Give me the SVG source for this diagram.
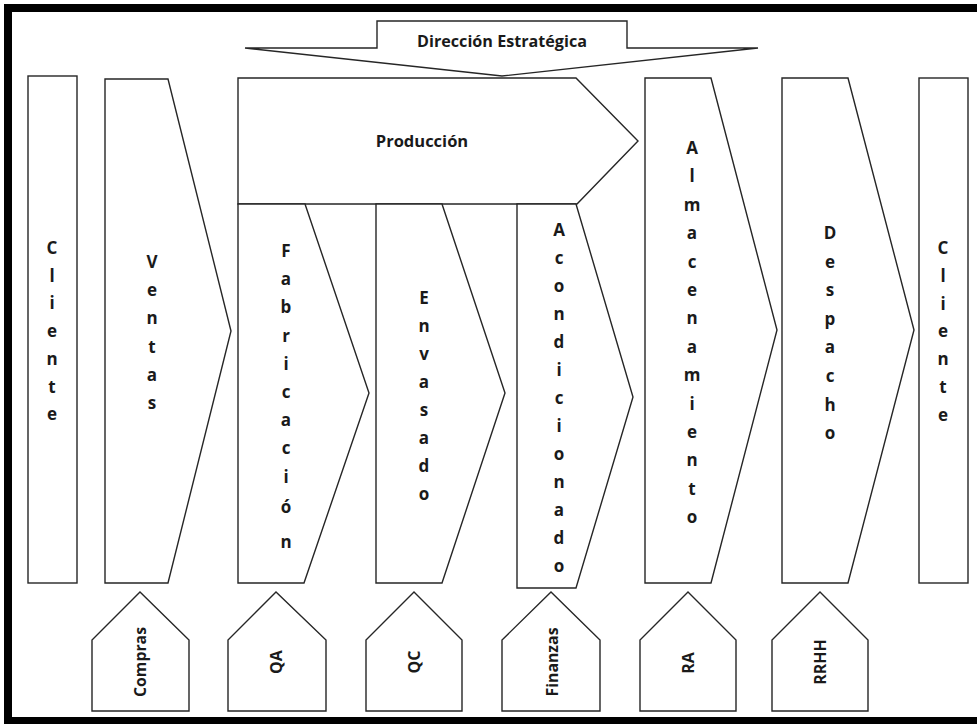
<svg xmlns="http://www.w3.org/2000/svg" width="977" height="724" viewBox="0 0 977 724">
  <style>
    .shape { fill: #ffffff; stroke: #262626; stroke-width: 1.4; stroke-linejoin: miter; }
    .lbl { font-family: "Open Sans", "Noto Sans", "Liberation Sans", sans-serif; font-weight: bold; fill: #1a1a1a; }
    .big { font-size: 16.5px; text-anchor: middle; }
    .col { font-size: 17px; text-anchor: middle; }
    .side { font-size: 16px; text-anchor: middle; dominant-baseline: central; }
  </style>

  <rect x="0" y="0" width="977" height="724" fill="#ffffff"/>
  <!-- frame (open on the right edge) -->
  <rect x="8" y="8" width="990" height="713" fill="none" stroke="#000000" stroke-width="8"/>

  <!-- top: strategic direction arrow -->
  <g id="direccion">
    <polygon class="shape" points="377,21 627,21 627,48 758,48 502,76 245,48 377,48"/>
    <text class="lbl big" x="502" y="47" textLength="170" lengthAdjust="spacingAndGlyphs">Dirección Estratégica</text>
  </g>

  <g id="cliente-entrada">
    <rect class="shape" x="28" y="76" width="49" height="507"/>
    <text class="lbl col">
      <tspan x="52" y="254">C</tspan><tspan x="52" dy="27.7">l</tspan><tspan x="52" dy="27.7">i</tspan><tspan x="52" dy="27.7">e</tspan><tspan x="52" dy="27.7">n</tspan><tspan x="52" dy="27.7">t</tspan><tspan x="52" dy="27.7">e</tspan>
    </text>
  </g>

  <g id="ventas">
    <polygon class="shape" points="105,79 168,79 231,331 168,583 105,583"/>
    <text class="lbl col">
      <tspan x="152" y="268">V</tspan><tspan x="152" dy="28.2">e</tspan><tspan x="152" dy="28.2">n</tspan><tspan x="152" dy="28.2">t</tspan><tspan x="152" dy="28.2">a</tspan><tspan x="152" dy="28.2">s</tspan>
    </text>
  </g>

  <g id="produccion">
    <polygon class="shape" points="238,78 576,78 638,141 577,204 238,204"/>
    <text class="lbl big" x="422" y="147">Producción</text>
  </g>

  <g id="fabricacion">
    <polygon class="shape" points="238,204 305,204 369,393 304,583 238,583"/>
    <text class="lbl col">
      <tspan x="286" y="257">F</tspan><tspan x="286" dy="28.2">a</tspan><tspan x="286" dy="28.2">b</tspan><tspan x="286" dy="28.2">r</tspan><tspan x="286" dy="28.2">i</tspan><tspan x="286" dy="28.2">c</tspan><tspan x="286" dy="28.2">a</tspan><tspan x="286" dy="28.2">c</tspan><tspan x="286" dy="28.2">i</tspan><tspan x="286" dy="30">ó</tspan><tspan x="286" dy="35">n</tspan>
    </text>
  </g>

  <g id="envasado">
    <polygon class="shape" points="376,204 442,204 505,393 442,583 376,583"/>
    <text class="lbl col">
      <tspan x="424" y="304">E</tspan><tspan x="424" dy="28">n</tspan><tspan x="424" dy="28">v</tspan><tspan x="424" dy="28">a</tspan><tspan x="424" dy="28">s</tspan><tspan x="424" dy="28">a</tspan><tspan x="424" dy="28">d</tspan><tspan x="424" dy="28">o</tspan>
    </text>
  </g>

  <g id="acondicionado">
    <polygon class="shape" points="517,204 576,204 633,397 576,588 517,588"/>
    <text class="lbl col">
      <tspan x="559" y="236">A</tspan><tspan x="559" dy="28">c</tspan><tspan x="559" dy="28">o</tspan><tspan x="559" dy="28">n</tspan><tspan x="559" dy="28">d</tspan><tspan x="559" dy="28">i</tspan><tspan x="559" dy="28">c</tspan><tspan x="559" dy="28">i</tspan><tspan x="559" dy="28">o</tspan><tspan x="559" dy="28">n</tspan><tspan x="559" dy="28">a</tspan><tspan x="559" dy="28">d</tspan><tspan x="559" dy="28">o</tspan>
    </text>
  </g>

  <g id="almacenamiento">
    <polygon class="shape" points="645,78 711,78 777,330 711,583 645,583"/>
    <text class="lbl col">
      <tspan x="692" y="154">A</tspan><tspan x="692" dy="28.4">l</tspan><tspan x="692" dy="28.4">m</tspan><tspan x="692" dy="28.4">a</tspan><tspan x="692" dy="28.4">c</tspan><tspan x="692" dy="28.4">e</tspan><tspan x="692" dy="28.4">n</tspan><tspan x="692" dy="28.4">a</tspan><tspan x="692" dy="28.4">m</tspan><tspan x="692" dy="28.4">i</tspan><tspan x="692" dy="28.4">e</tspan><tspan x="692" dy="28.4">n</tspan><tspan x="692" dy="28.4">t</tspan><tspan x="692" dy="28.4">o</tspan>
    </text>
  </g>

  <g id="despacho">
    <polygon class="shape" points="782,78 848,78 914,330 848,583 782,583"/>
    <text class="lbl col">
      <tspan x="830" y="239">D</tspan><tspan x="830" dy="28.6">e</tspan><tspan x="830" dy="28.6">s</tspan><tspan x="830" dy="28.6">p</tspan><tspan x="830" dy="28.6">a</tspan><tspan x="830" dy="28.6">c</tspan><tspan x="830" dy="28.6">h</tspan><tspan x="830" dy="28.6">o</tspan>
    </text>
  </g>

  <g id="cliente-salida">
    <rect class="shape" x="919" y="78" width="49" height="505"/>
    <text class="lbl col">
      <tspan x="943" y="254">C</tspan><tspan x="943" dy="27.8">l</tspan><tspan x="943" dy="27.8">i</tspan><tspan x="943" dy="27.8">e</tspan><tspan x="943" dy="27.8">n</tspan><tspan x="943" dy="27.8">t</tspan><tspan x="943" dy="27.8">e</tspan>
    </text>
  </g>

  <!-- support areas -->
  <g id="compras">
    <polygon class="shape" points="92,711 92,640 140,592 189,640 189,711"/>
    <text class="lbl side" transform="rotate(-90 140 662)" x="140" y="662" textLength="70" lengthAdjust="spacingAndGlyphs">Compras</text>
  </g>
  <g id="qa">
    <polygon class="shape" points="228,711 228,640 276,592 326,640 326,711"/>
    <text class="lbl side" transform="rotate(-90 276 662)" x="276" y="662">QA</text>
  </g>
  <g id="qc">
    <polygon class="shape" points="366,711 366,640 414,592 462,640 462,711"/>
    <text class="lbl side" transform="rotate(-90 414 662)" x="414" y="662">QC</text>
  </g>
  <g id="finanzas">
    <polygon class="shape" points="502,711 502,640 551,592 600,640 600,711"/>
    <text class="lbl side" transform="rotate(-90 552 662)" x="552" y="662" textLength="69" lengthAdjust="spacingAndGlyphs">Finanzas</text>
  </g>
  <g id="ra">
    <polygon class="shape" points="640,711 640,640 688,592 736,640 736,711"/>
    <text class="lbl side" transform="rotate(-90 688 663)" x="688" y="663">RA</text>
  </g>
  <g id="rrhh">
    <polygon class="shape" points="772,711 772,640 820,592 868,640 868,711"/>
    <text class="lbl side" transform="rotate(-90 820 662)" x="820" y="662">RRHH</text>
  </g>

  <g id="connectors"></g>
</svg>
